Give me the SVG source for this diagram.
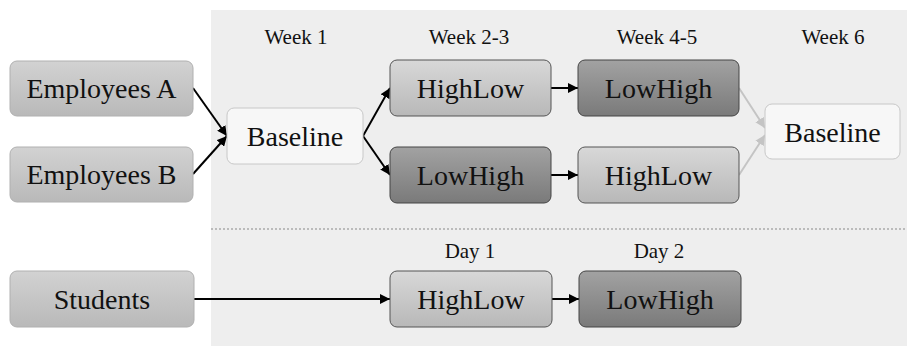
<svg xmlns="http://www.w3.org/2000/svg" width="907" height="346" viewBox="0 0 907 346">
<defs>
<linearGradient id="gLight" x1="0" y1="0" x2="0" y2="1">
<stop offset="0" stop-color="#d8d8d8"/><stop offset="1" stop-color="#b8b8b8"/>
</linearGradient>
<linearGradient id="gDark" x1="0" y1="0" x2="0" y2="1">
<stop offset="0" stop-color="#a2a2a2"/><stop offset="1" stop-color="#7a7a7a"/>
</linearGradient>
<linearGradient id="gEmp" x1="0" y1="0" x2="0" y2="1">
<stop offset="0" stop-color="#d2d2d2"/><stop offset="1" stop-color="#b9b9b9"/>
</linearGradient>
<marker id="ah" viewBox="0 0 10 10" refX="10" refY="5" markerWidth="10" markerHeight="10" markerUnits="userSpaceOnUse" orient="auto">
<path d="M0,0 L10,5 L0,10 z" fill="#000"/>
</marker>
<marker id="ahg" viewBox="0 0 10 10" refX="10" refY="5" markerWidth="10" markerHeight="10" markerUnits="userSpaceOnUse" orient="auto">
<path d="M0,0 L10,5 L0,10 z" fill="#c4c4c4"/>
</marker>
</defs>
<style>
.t{font-family:"Liberation Serif","DejaVu Serif",serif;font-size:28px;fill:#111;text-anchor:middle}
.h{font-family:"Liberation Serif","DejaVu Serif",serif;font-size:21px;fill:#111;text-anchor:middle}
.emp{fill:url(#gEmp);stroke:#b0b0b0;stroke-width:1}
.light{fill:url(#gLight);stroke:#555;stroke-width:1}
.dark{fill:url(#gDark);stroke:#444;stroke-width:1}
.base{fill:#f7f7f7;stroke:#c8c8c8;stroke-width:1}
.c{stroke:#000;stroke-width:2;fill:none;marker-end:url(#ah)}
.cg{stroke:#c4c4c4;stroke-width:2;fill:none;marker-end:url(#ahg)}
</style>
<rect x="211" y="10" width="696" height="336" fill="#eeeeee"/>
<line x1="211" y1="229" x2="907" y2="229" stroke="#888" stroke-width="1.2" stroke-dasharray="2 2"/>
<g id="labels">
<text class="h" x="296" y="44">Week 1</text>
<text class="h" x="469" y="44">Week 2-3</text>
<text class="h" x="657" y="44">Week 4-5</text>
<text class="h" x="833" y="44">Week 6</text>
<text class="h" x="470" y="258">Day 1</text>
<text class="h" x="659" y="258">Day 2</text>
</g>
<g id="connectors">
<line class="c" x1="193" y1="88" x2="227" y2="136"/>
<line class="c" x1="193" y1="174" x2="227" y2="136"/>
<line class="c" x1="363" y1="136" x2="390" y2="88"/>
<line class="c" x1="363" y1="136" x2="390" y2="175"/>
<line class="c" x1="551" y1="88" x2="578" y2="88"/>
<line class="c" x1="551" y1="175" x2="578" y2="175"/>
<line class="cg" x1="739" y1="88" x2="765" y2="128"/>
<line class="cg" x1="739" y1="175" x2="765" y2="135"/>
<line class="c" x1="194" y1="299" x2="390" y2="299"/>
<line class="c" x1="552" y1="299" x2="579" y2="299"/>
</g>
<g id="empA"><rect class="emp" x="10" y="61" width="183" height="55" rx="7"/><text class="t" x="101.5" y="98">Employees A</text></g>
<g id="empB"><rect class="emp" x="10" y="147" width="183" height="55" rx="7"/><text class="t" x="101.5" y="184">Employees B</text></g>
<g id="baseline1"><rect class="base" x="227" y="108" width="136" height="56" rx="7"/><text class="t" x="295" y="146">Baseline</text></g>
<g id="highlow1"><rect class="light" x="390" y="60" width="161" height="56" rx="7"/><text class="t" x="470.5" y="98">HighLow</text></g>
<g id="lowhigh1"><rect class="dark" x="578" y="60" width="161" height="56" rx="7"/><text class="t" x="658.5" y="98">LowHigh</text></g>
<g id="lowhigh2"><rect class="dark" x="390" y="147" width="161" height="56" rx="7"/><text class="t" x="470.5" y="185">LowHigh</text></g>
<g id="highlow2"><rect class="light" x="578" y="147" width="161" height="56" rx="7"/><text class="t" x="658.5" y="185">HighLow</text></g>
<g id="baseline2"><rect class="base" x="765" y="104" width="135" height="55" rx="7"/><text class="t" x="832.5" y="142">Baseline</text></g>
<g id="students"><rect class="emp" x="10" y="271" width="184" height="56" rx="7"/><text class="t" x="102" y="309">Students</text></g>
<g id="highlow3"><rect class="light" x="390" y="271" width="162" height="56" rx="7"/><text class="t" x="471" y="309">HighLow</text></g>
<g id="lowhigh3"><rect class="dark" x="579" y="271" width="162" height="56" rx="7"/><text class="t" x="660" y="309">LowHigh</text></g>
</svg>
